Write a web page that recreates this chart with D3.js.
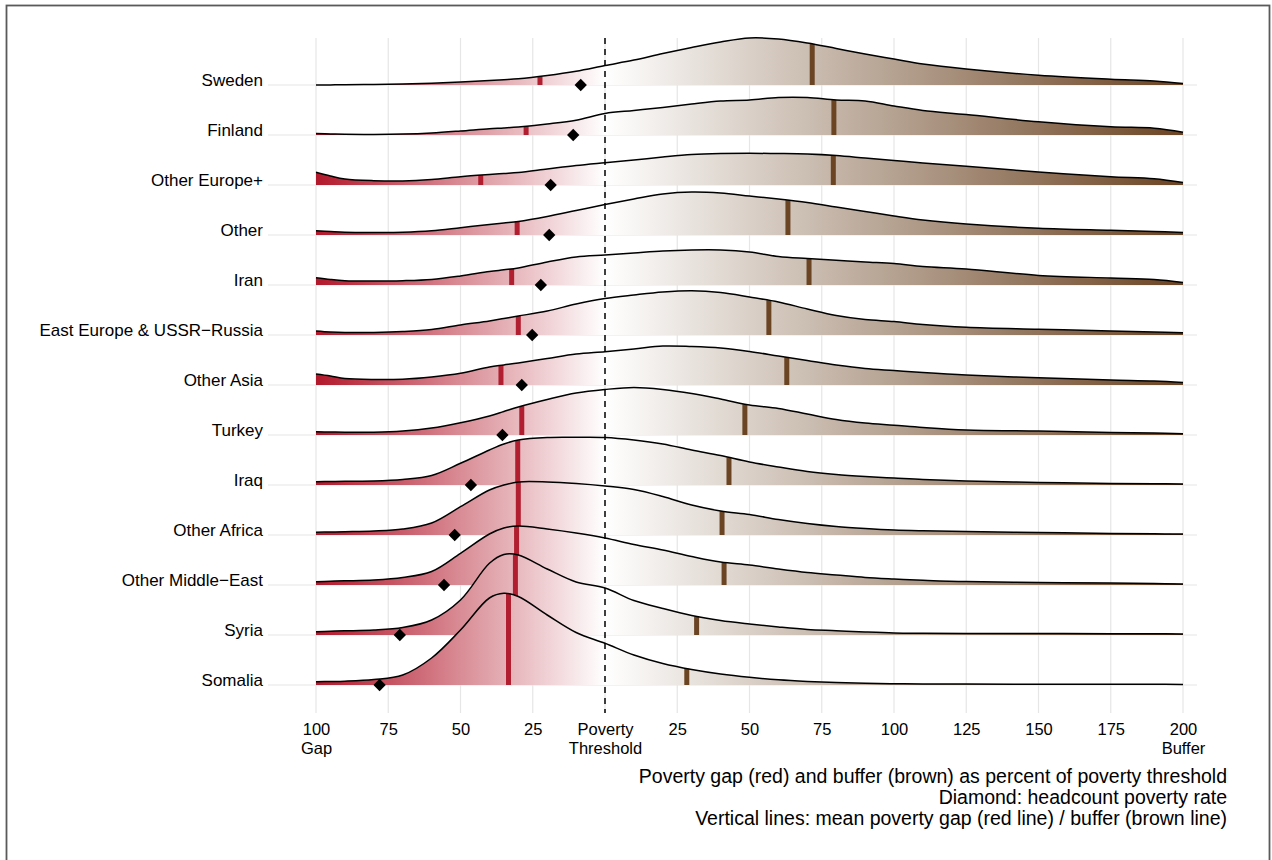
<!DOCTYPE html>
<html>
<head>
<meta charset="utf-8">
<script src="https://cdn.jsdelivr.net/npm/d3@7"></script>
<style>
  body { margin: 0; background: #fff; }
  svg { display: block; font-family: "Liberation Sans", Arial, Helvetica, sans-serif; }
</style>
</head>
<body>
<svg id="chart" width="1272" height="860"></svg>
<script>
// ---------------- DATA ----------------
const countries = ["Sweden", "Finland", "Other Europe+", "Other", "Iran",
  "East Europe & USSR\u2212Russia", "Other Asia", "Turkey", "Iraq", "Other Africa",
  "Other Middle\u2212East", "Syria", "Somalia"];

// x positions (negative = poverty gap %, positive = buffer %) where densities were read
const gridX = [-100, -95, -90, -80, -70, -60, -50, -40, -35, -30, -20, -10, 0,
  10, 20, 30, 40, 50, 60, 70, 80, 90, 100, 110, 125, 150, 175, 190, 200];

// relative density heights per country at gridX
const densSweden      = [0, 0.1, 0.2, 0.5, 0.9, 1.7, 3, 4.5, 5.3, 6.2, 9.5, 13.8, 19.5, 25, 31.5, 37.5, 43, 47, 46, 42, 36.5, 31, 26, 21, 16, 9.8, 5.8, 4, 1.5];
const densFinland     = [1.5, 1.1, 0.8, 0.6, 0.9, 2, 4, 6.3, 7, 8, 11, 14.8, 21.5, 24.5, 27.5, 31, 34, 35, 37.5, 37.5, 35, 34, 29, 24.5, 20.5, 13.2, 8.2, 6.8, 2.8];
const densOtherEurope = [12.7, 9, 6, 4.3, 4, 5.5, 8.3, 10.5, 11.5, 12.5, 16, 19.5, 22.3, 25, 28, 30.5, 31.5, 31.7, 31.5, 31, 29.5, 27, 24.5, 22, 18.8, 13, 8.3, 6.3, 2.5];
const densOther       = [4.3, 3.5, 2.8, 2.6, 2.8, 4.2, 7.3, 10.5, 12, 13.5, 18.5, 24.5, 30.5, 36, 41, 43, 42, 39, 36, 32.5, 28, 23.5, 19, 15, 11, 6.8, 4.7, 3.5, 2.5];
const densIran        = [7.3, 5.5, 4.3, 4, 4.3, 5.5, 9, 13.5, 15.2, 17, 23, 28, 30, 32, 34, 35, 35, 33, 28.5, 26.5, 24.8, 23, 21.5, 18.5, 16, 9.6, 7, 5.5, 2.6];
const densEastEurope  = [4, 3, 2.5, 2.6, 3.5, 5.5, 10, 14, 16.5, 19, 24, 31, 36.5, 40, 43, 44.3, 42.5, 38, 33, 26, 19.5, 15.5, 13.5, 10.5, 7.8, 5.8, 4, 3, 2.3];
const densOtherAsia   = [11, 9, 6.5, 5.5, 5.8, 8, 11.7, 18, 20, 22, 26.5, 31, 33.3, 36, 39, 38.5, 37, 33.5, 29, 24.5, 20, 16.5, 14.5, 12.5, 10, 7.2, 5, 4, 2.4];
const densTurkey      = [3.3, 3, 2.8, 2.8, 4, 7, 12.3, 19, 23.5, 28, 35.5, 42, 45.5, 47.5, 45.5, 41.5, 36, 30, 26.5, 21, 15.5, 12, 9.8, 7.5, 5, 4, 2.6, 2, 1.3];
const densIraq        = [3.3, 3.5, 3.8, 4, 5.5, 9.5, 21.7, 35, 41, 45, 47.5, 47.7, 47.5, 45, 41, 35, 29.5, 23, 18, 13.5, 10.5, 8.5, 7, 5.5, 4, 2.6, 1.5, 1.2, 1];
const densOtherAfrica = [2.7, 3, 3.3, 4, 6, 12, 28.3, 45, 50, 53, 53, 51.5, 49, 45.5, 38.5, 30, 24, 20.5, 15.5, 11.5, 8.5, 6.5, 5, 4.2, 3.4, 2.5, 1.6, 1.2, 1];
const densOtherMidEast= [3.3, 3.8, 4.2, 5, 7.5, 13.5, 31.7, 51, 57, 59, 56, 52, 47, 40.5, 35, 28.5, 23, 20, 16, 12.5, 10, 7.5, 6, 4.8, 3.4, 2.5, 2, 1.5, 1];
const densSyria       = [3.3, 3.8, 4.2, 5, 7.5, 15, 35, 71.7, 80.5, 80, 66, 53, 47, 34.5, 26.5, 19.5, 14.5, 11, 8, 5.5, 4.3, 3, 2, 1.7, 1.5, 1.5, 1.3, 1.2, 1];
const densSomalia     = [3.3, 3.5, 3.8, 5.5, 10, 27, 55, 87, 91.7, 88.5, 70, 52.5, 41.7, 30, 21.5, 15.5, 11, 7.7, 5.2, 3.6, 2.5, 1.8, 1.3, 1.1, 1, 0.8, 0.7, 0.7, 0.6];

// mean poverty gap (%), mean buffer (%), headcount poverty rate (%)
const meanGap    = [22.5, 27.3, 43, 30.4, 32.3, 30, 36, 28.8, 30.2, 30, 30.6, 31, 33.4];
const meanBuffer = [71.7, 79.2, 79, 63.3, 70.6, 56.7, 62.9, 48.4, 42.9, 40.5, 41.2, 31.7, 28.3];
const headcount  = [8.4, 11, 18.8, 19.3, 22.2, 25.2, 28.8, 35.5, 46.4, 52, 55.7, 71, 78];

const tickValues = [-100, -75, -50, -25, 0, 25, 50, 75, 100, 125, 150, 175, 200];
const tickLabels = ["100\nGap", "75", "50", "25", "Poverty\nThreshold", "25", "50", "75", "100", "125", "150", "175", "200\nBuffer"];

const captionLines = [
  "Poverty gap (red) and buffer (brown) as percent of poverty threshold",
  "Diamond: headcount poverty rate",
  "Vertical lines: mean poverty gap (red line) / buffer (brown line)"
];

const densities = [densSweden, densFinland, densOtherEurope, densOther, densIran,
  densEastEurope, densOtherAsia, densTurkey, densIraq, densOtherAfrica,
  densOtherMidEast, densSyria, densSomalia];

// ---------------- DRAWING ----------------
const svg = d3.select("#chart");
const RED = "#B2182B", BROWN = "#6B4423";

const x = d3.scaleLinear().domain([-100, 200]).range([316, 1183]);
const y = d3.scalePoint().domain(countries).range([85, 685]);
const step = y.step();
const hScale = d3.scaleLinear().domain([0, 50]).range([0, step]);

const gridTop = 38, gridBottom = 713;

// outer frame
svg.append("rect").attr("x", 6.5).attr("y", 5.5).attr("width", 1263).attr("height", 880)
  .attr("fill", "none").attr("stroke", "#5a5a5a").attr("stroke-width", 1.8);

// gradient
const color = d3.scaleLinear().domain([-100, 0, 200]).range([RED, "#ffffff", BROWN]);
const grad = svg.append("defs").append("linearGradient").attr("id", "fillGrad")
  .attr("gradientUnits", "userSpaceOnUse")
  .attr("x1", x(-100)).attr("x2", x(200)).attr("y1", 0).attr("y2", 0);
d3.range(-100, 201, 10).forEach(v => {
  grad.append("stop").attr("offset", (v + 100) / 300).attr("stop-color", color(v));
});

// grid
const grid = svg.append("g");
grid.selectAll("line.v").data(tickValues).join("line")
  .attr("x1", d => x(d)).attr("x2", d => x(d))
  .attr("y1", gridTop).attr("y2", gridBottom)
  .attr("stroke", "#e6e6e6").attr("stroke-width", 1.2);
grid.selectAll("line.h").data(countries).join("line")
  .attr("x1", 268).attr("x2", 1197)
  .attr("y1", d => y(d)).attr("y2", d => y(d))
  .attr("stroke", "#e6e6e6").attr("stroke-width", 1.2);

// ridges
const ridges = svg.append("g");
function heightAt(pathNode, targetX) {
  const len = pathNode.getTotalLength();
  let lo = 0, hi = len;
  for (let k = 0; k < 40; k++) {
    const mid = (lo + hi) / 2;
    const p = pathNode.getPointAtLength(mid);
    if (p.x < targetX) lo = mid; else hi = mid;
  }
  return pathNode.getPointAtLength((lo + hi) / 2).y;
}

const curve = d3.curveCatmullRom.alpha(0.5);
countries.forEach((c, i) => {
  const base = y(c);
  const pts = gridX.map((v, j) => [v, densities[i][j]]);
  const area = d3.area().x(d => x(d[0])).y0(base).y1(d => Math.min(base, base - hScale(d[1]))).curve(curve);
  const line = d3.line().x(d => x(d[0])).y(d => base - hScale(d[1])).curve(curve);
  const g = ridges.append("g");
  g.append("path").attr("d", area(pts)).attr("fill", "url(#fillGrad)");
  const ln = g.append("path").attr("d", line(pts)).attr("fill", "none")
    .attr("stroke", "#000").attr("stroke-width", 1.5);
  const node = ln.node();
  const xr = x(-meanGap[i]), xb = x(meanBuffer[i]);
  g.insert("line", "path:last-child").attr("x1", xr).attr("x2", xr)
    .attr("y1", base).attr("y2", heightAt(node, xr))
    .attr("stroke", "#B01E2F").attr("stroke-width", 5);
  g.insert("line", "path:last-child").attr("x1", xb).attr("x2", xb)
    .attr("y1", base).attr("y2", heightAt(node, xb))
    .attr("stroke", "#6B4423").attr("stroke-width", 5);
});

// threshold line
svg.append("line").attr("x1", x(0)).attr("x2", x(0)).attr("y1", gridTop).attr("y2", gridBottom)
  .attr("stroke", "#000").attr("stroke-width", 1.5).attr("stroke-dasharray", "6,5");

// diamonds
const sq = d3.symbol().type(d3.symbolSquare).size(76);
svg.append("g").selectAll("path").data(countries).join("path")
  .attr("d", sq())
  .attr("transform", (d, i) => `translate(${x(-headcount[i])},${y(d)}) rotate(45)`)
  .attr("fill", "#000");

// row labels
svg.append("g").selectAll("text").data(countries).join("text")
  .attr("x", 263).attr("y", d => y(d) + 1)
  .attr("text-anchor", "end").attr("font-size", 17).attr("fill", "#000")
  .text(d => d);

// x axis
const axis = d3.axisBottom(x).tickValues(tickValues).tickSize(0).tickFormat((d, i) => tickLabels[i]);
const ag = svg.append("g").attr("transform", `translate(0,${gridBottom})`).call(axis);
ag.select(".domain").remove();
ag.attr("font-size", 16.5).attr("font-family", "'Liberation Sans', Arial, sans-serif");
ag.selectAll(".tick text").each(function (d, i) {
  const t = d3.select(this);
  const parts = tickLabels[i].split("\n");
  t.text(null).attr("y", null).attr("dy", null).attr("fill", "#000");
  parts.forEach((p, k) => t.append("tspan").attr("x", 0).attr("y", 22 + k * 19).text(p));
});

// caption
svg.append("g").selectAll("text").data(captionLines).join("text")
  .attr("x", 1227).attr("y", (d, i) => 783 + i * 21)
  .attr("text-anchor", "end").attr("font-size", 19.5).attr("fill", "#000")
  .text(d => d);
</script>
</body>
</html>
